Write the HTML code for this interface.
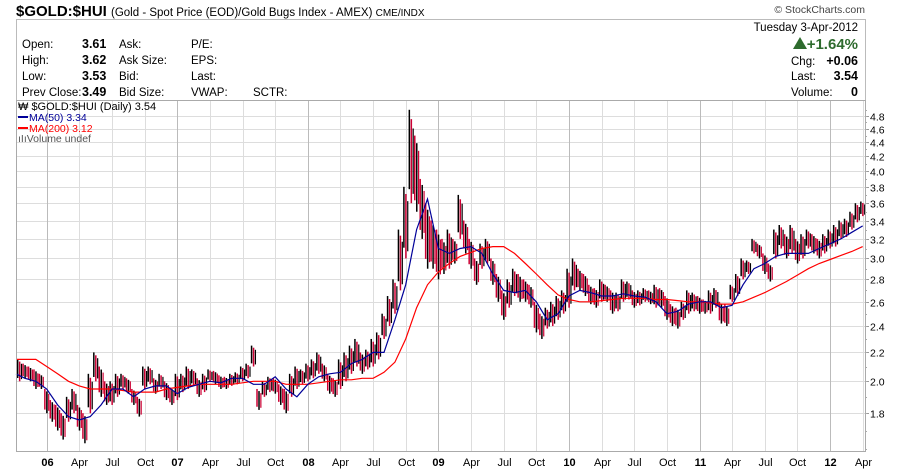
<!DOCTYPE html>
<html><head><meta charset="utf-8">
<style>
body{margin:0;background:#fff;width:900px;height:469px;overflow:hidden;font-family:"Liberation Sans",sans-serif;}
svg text{font-family:"Liberation Sans",sans-serif;}
</style></head>
<body>
<svg id="chart" width="900" height="469" xmlns="http://www.w3.org/2000/svg">
<text x="16" y="16" font-size="15" font-weight="bold" fill="#000">$GOLD:$HUI <tspan font-size="11.5" font-weight="normal">(Gold - Spot Price (EOD)/Gold Bugs Index - AMEX) </tspan><tspan font-size="10" font-weight="normal">CME/INDX</tspan></text>
<text x="865" y="13" font-size="10.5" fill="#444" text-anchor="end">© StockCharts.com</text>
<rect x="16.5" y="19.5" width="849" height="81" fill="none" stroke="#bbb"/>
<g font-size="11.5" fill="#000">
<text x="22" y="48">Open:</text><text x="82" y="48" font-weight="bold" font-size="12.5">3.61</text><text x="119" y="48">Ask:</text><text x="191" y="48">P/E:</text>
<text x="22" y="64">High:</text><text x="82" y="64" font-weight="bold" font-size="12.5">3.62</text><text x="119" y="64">Ask Size:</text><text x="191" y="64">EPS:</text>
<text x="22" y="80">Low:</text><text x="82" y="80" font-weight="bold" font-size="12.5">3.53</text><text x="119" y="80">Bid:</text><text x="191" y="80">Last:</text>
<text x="22" y="96">Prev Close:</text><text x="82" y="96" font-weight="bold" font-size="12.5">3.49</text><text x="119" y="96">Bid Size:</text><text x="191" y="96">VWAP:</text><text x="253" y="96">SCTR:</text>
<text x="858" y="31" text-anchor="end">Tuesday  3-Apr-2012</text>
<polygon points="793,49 800,37 807,49" fill="#2e6b2e"/>
<text x="858" y="49" text-anchor="end" font-size="15" font-weight="bold" fill="#2e6b2e">+1.64%</text>
<text x="791" y="65">Chg:</text><text x="858" y="65" text-anchor="end" font-weight="bold" font-size="12.5">+0.06</text>
<text x="791" y="80">Last:</text><text x="858" y="80" text-anchor="end" font-weight="bold" font-size="12.5">3.54</text>
<text x="791" y="96">Volume:</text><text x="858" y="96" text-anchor="end" font-weight="bold" font-size="12.5">0</text>
</g>
<g id="grid"></g>
<g id="bars"></g>
<g id="lines"></g>
<g id="axes"></g>
<rect x="16.5" y="100.5" width="849" height="351" fill="none" stroke="#aaa"/>
<g font-size="11">
<text x="18" y="110" fill="#000" font-family="Liberation Mono,monospace" font-size="11">₩ $GOLD:$HUI (Daily) 3.54</text>
<line x1="18" y1="117" x2="28" y2="117" stroke="#000099" stroke-width="2"/>
<text x="29" y="121" fill="#000099" font-size="10.5">MA(50) 3.34</text>
<line x1="18" y1="128" x2="28" y2="128" stroke="#ff0000" stroke-width="2"/>
<text x="29" y="132" fill="#ff0000" font-size="10.5">MA(200) 3.12</text>
<text x="18" y="142" fill="#555" font-size="10.5">ıIıVolume undef</text>
</g>
</svg>
<script>
// half-month bars starting mid-Oct 2005 (month index -2.5)
const barLow = [2.0,2.02,2.0,1.95,1.95,1.8,1.75,1.7,1.65,1.75,1.8,1.7,1.63,1.8,2.0,1.9,1.85,1.85,1.9,1.95,1.92,1.85,1.78,1.95,1.98,1.92,1.95,1.88,1.85,
1.88,1.93,1.95,1.97,1.9,1.93,2.0,1.98,1.95,1.95,1.97,1.98,2.0,2.02,2.1,1.82,1.9,1.93,1.92,1.85,1.8,1.9,1.95,1.98,
2.0,2.02,2.05,2.0,1.92,1.9,1.95,2.0,2.05,2.1,2.05,2.08,2.1,2.15,2.3,2.4,2.5,2.7,3.0,3.6,3.5,3.2,2.9,2.9,
2.8,2.85,2.9,2.95,3.2,3.05,2.9,2.75,2.9,2.95,2.75,2.6,2.45,2.55,2.65,2.6,2.6,2.55,2.35,2.3,2.38,2.4,2.45,2.5,
2.55,2.7,2.7,2.65,2.58,2.55,2.6,2.6,2.5,2.52,2.6,2.62,2.55,2.57,2.6,2.58,2.55,2.55,2.45,2.4,2.38,2.45,2.5,2.52,
2.5,2.5,2.5,2.55,2.42,2.4,2.6,2.65,2.8,2.85,3.05,3.0,2.85,2.78,3.0,3.1,3.0,3.05,2.95,3.0,3.1,3.05,3.0,3.05,
3.1,3.12,3.2,3.22,3.3,3.38,3.45];
const barHigh = [2.15,2.12,2.1,2.08,2.05,1.95,1.88,1.85,1.8,1.9,1.95,1.85,1.8,2.05,2.2,2.1,2.0,2.0,2.05,2.05,2.02,1.95,1.9,2.1,2.1,2.02,2.05,2.0,1.96,
2.05,2.05,2.1,2.08,2.02,2.05,2.08,2.07,2.04,2.03,2.05,2.06,2.1,2.12,2.25,1.95,2.0,2.03,2.02,1.98,1.95,2.05,2.1,2.08,
2.12,2.15,2.2,2.12,2.05,2.02,2.15,2.2,2.25,2.3,2.2,2.22,2.3,2.35,2.5,2.65,2.8,3.3,3.8,4.9,4.5,3.9,3.6,3.4,
3.3,3.2,3.3,3.2,3.7,3.4,3.2,3.0,3.15,3.2,3.0,2.85,2.7,2.8,2.9,2.85,2.8,2.75,2.6,2.5,2.55,2.6,2.65,2.7,
2.9,3.0,2.9,2.85,2.75,2.72,2.8,2.75,2.7,2.68,2.8,2.78,2.7,2.7,2.72,2.7,2.75,2.72,2.65,2.58,2.55,2.6,2.7,2.68,
2.65,2.62,2.7,2.72,2.6,2.58,2.75,2.85,3.0,2.98,3.2,3.15,3.05,2.95,3.3,3.35,3.25,3.35,3.2,3.25,3.3,3.25,3.2,3.25,
3.3,3.35,3.4,3.42,3.5,3.6,3.62];
// monthly moving averages starting Oct 2005 (month index -3)
const ma50 = [2.05,2.02,2.0,1.95,1.85,1.78,1.76,1.78,1.85,1.95,1.95,1.9,1.95,1.97,1.97,1.92,1.96,1.98,2.0,1.99,2.02,2.02,1.98,1.98,2.03,1.95,1.9,
1.98,2.03,2.05,2.06,2.12,2.15,2.2,2.2,2.45,2.75,3.3,3.65,3.1,3.05,3.1,3.12,3.05,2.85,2.7,2.68,2.7,2.6,2.45,2.5,
2.65,2.7,2.68,2.65,2.65,2.67,2.65,2.64,2.6,2.5,2.52,2.58,2.6,2.6,2.55,2.57,2.75,2.9,2.95,3.02,3.05,3.05,3.05,3.1,3.15,3.2,3.27,3.34];
const ma200 = [2.15,2.15,2.15,2.1,2.05,2.0,1.97,1.95,1.95,1.95,1.94,1.93,1.93,1.93,1.95,1.96,1.97,1.98,1.98,1.98,1.98,1.99,2.0,2.0,2.0,1.98,1.98,
1.98,1.99,2.0,2.01,2.01,2.02,2.02,2.06,2.13,2.3,2.55,2.75,2.87,2.95,3.02,3.06,3.1,3.12,3.12,3.05,2.95,2.85,2.75,2.66,
2.62,2.6,2.6,2.61,2.62,2.63,2.63,2.63,2.62,2.62,2.61,2.6,2.6,2.59,2.58,2.58,2.6,2.64,2.68,2.73,2.78,2.84,2.9,2.95,2.99,3.03,3.07,3.12];
const yTicks = [1.8,2.0,2.2,2.4,2.6,2.8,3.0,3.2,3.4,3.6,3.8,4.0,4.2,4.4,4.6,4.8];
const xLabels = ["06","Apr","Jul","Oct","07","Apr","Jul","Oct","08","Apr","Jul","Oct","09","Apr","Jul","Oct","10","Apr","Jul","Oct","11","Apr","Jul","Oct","12","Apr"];

const NS="http://www.w3.org/2000/svg";
const X0=46.7, PXM=10.88, Y2=381.3, K=303, LEFT=16, RIGHT=865, TOP=100, BOT=451;
function xScale(m){return X0+m*PXM;}
function yScale(v){return Y2-K*Math.log(v/2);}
function mk(tag,parent,attrs){const e=document.createElementNS(NS,tag);for(const k in attrs)e.setAttribute(k,attrs[k]);parent.appendChild(e);return e;}
const grid=document.getElementById('grid'),bars=document.getElementById('bars'),lines=document.getElementById('lines'),axes=document.getElementById('axes');

yTicks.forEach(v=>{
  const y=Math.round(yScale(v))+0.5;
  const g=mk('line',grid,{x1:LEFT,x2:RIGHT,y1:y,y2:y,stroke:'#ddd'});
  
  
  const t=mk('text',axes,{x:870,y:y+4,'font-size':'10.5',fill:'#000'});
  t.textContent=v.toFixed(1);
  
  
  mk('line',axes,{x1:RIGHT,x2:RIGHT+4,y1:y,y2:y,stroke:'#999'});
});
for(let v=1.6;v<=4.9;v+=0.1){const y=Math.round(yScale(v))+0.5;if(y>TOP&&y<BOT)mk('line',axes,{x1:RIGHT,x2:RIGHT+2,y1:y,y2:y,stroke:'#aaa'});}

xLabels.forEach((lab,i)=>{
  const m=i*3, x=Math.round(xScale(m))+0.5, yr=(i%4===0);
  const g=mk('line',grid,{x1:x,x2:x,y1:TOP,y2:BOT,stroke:yr?'#bbb':'#ddd'});
  
  
  const t=mk('text',axes,{x:x,y:466,'font-size':'11','text-anchor':'middle',fill:'#000','font-weight':yr?'bold':'normal'});
  t.textContent=lab;
  
  
});

let prevMid=null;
barLow.forEach((lo,i)=>{
  const hi=barHigh[i], m=-2.5+i*0.5, x=xScale(m);
  const mid=(lo+hi)/2, up=prevMid===null||mid>=prevMid; prevMid=mid;
  const y1=yScale(hi), y2=yScale(lo), h=y2-y1;
  const r=mk('rect',bars,{x:x-2.6,y:y1,width:1.5,height:Math.max(1,h*0.85),fill:up?'#000':'#cc0033'});
  
  
  const r2=mk('rect',bars,{x:x-0.6,y:y1+h*0.1,width:1.5,height:Math.max(1,h*0.9),fill:up?'#cc0033':'#000'});
  
  
  const r3=mk('rect',bars,{x:x+1.4,y:y1+h*0.2,width:1.2,height:Math.max(1,h*0.7),fill:up?'#000':'#cc0033'});
  
  
});

function line(arr,color,name){
  const pts=arr.map((v,i)=>[Math.max(LEFT,xScale(-3+i)),yScale(v)]);
  const p=mk('polyline',lines,{points:pts.map(p=>p[0].toFixed(1)+','+p[1].toFixed(1)).join(' '),fill:'none',stroke:color,'stroke-width':'1.2'});
  
  
}
line(ma200,'#ff0000','ma200-line');
line(ma50,'#000099','ma50-line');
</script>
</body></html>
